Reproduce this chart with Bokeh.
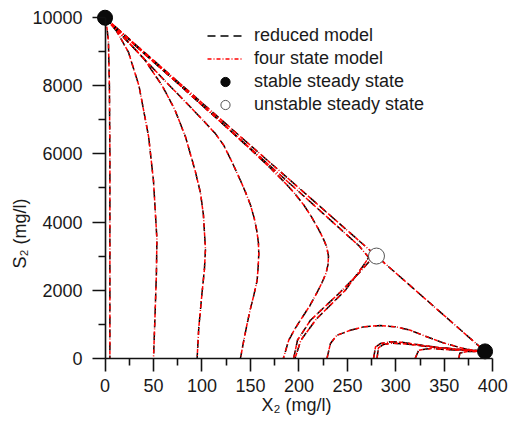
import math
from bokeh.plotting import figure
from bokeh.models import Range1d, Legend, LegendItem, FixedTicker, LinearAxis, Title
from bokeh.embed import file_html
from bokeh.resources import INLINE

# ---------------- data ----------------
x_major = [0, 50, 100, 150, 200, 250, 300, 350, 400]
x_minor = [25, 75, 125, 175, 225, 275, 325, 375]
y_major = [0, 2000, 4000, 6000, 8000, 10000]
y_minor = [1000, 3000, 5000, 7000, 9000]

# trajectories: X2 (mg/l) and S2 (mg/l)
trajA_x = [0, 2, 3.5, 4.5, 5, 5, 5]
trajA_s = [10000, 9700, 9300, 8000, 6000, 3000, 0]

trajB_x = [0, 12, 24, 35, 45, 50, 53.5, 53, 51.5, 50]
trajB_s = [10000, 9600, 9000, 8000, 6500, 5200, 3500, 2500, 1200, 0]

trajC_x = [0, 20, 40, 59, 72, 83, 93, 98.5, 101.5, 103.6, 102.5, 100, 96.7, 95]
trajC_s = [10000, 9400, 8800, 8000, 7300, 6500, 5500, 4850, 4200, 3200, 2600, 1900, 900, 0]

trajD_x = [0, 30, 60, 90, 102, 114, 122.5, 131, 139.7, 145, 150, 154, 156.5, 158.2, 158.6,
           158, 156.9, 153.5, 150, 146.6, 143, 139.7]
trajD_s = [10000, 9100, 8200, 7320, 6960, 6590, 6250, 5760, 5220, 4870, 4500, 4100, 3750, 3400, 3070,
           2700, 2287, 1850, 1457, 1017, 500, 0]

trajE_x = [0, 40, 80, 119, 157, 171, 184, 195, 205, 213, 220, 225, 228.5, 230.5, 230, 228, 224, 219,
           211, 201.5, 195, 189.5, 184]
trajE_s = [10000, 8950, 7950, 6950, 5950, 5570, 5200, 4860, 4500, 4150, 3800, 3520, 3280, 3000, 2750,
           2500, 2230, 1945, 1530, 1114, 820, 528, 0]

trajF_x = [194.6, 198.5, 211.9, 242.8, 262, 276]
trajF_s = [0, 528, 1114, 1945, 2500, 2950]

trajL_x = [0, 280, 392]
trajL_s = [10000, 3000, 200]

trajL2_x = [0, 100, 200, 262, 272, 266, 248, 218, 202, 196]
trajL2_s = [10000, 7430, 4890, 3300, 2960, 2700, 2000, 1150, 528, 0]

trajG_x = [229, 232.5, 239, 253, 267, 284, 300, 315, 330, 349, 373, 392]
trajG_s = [0, 430, 670, 820, 920, 960, 920, 820, 650, 450, 260, 200]

trajH1_x = [277, 279, 284, 294, 305, 315, 340, 365, 392]
trajH1_s = [0, 330, 430, 480, 470, 430, 330, 250, 200]

trajH2_x = [280.6, 282, 287, 296, 310, 340, 392]
trajH2_s = [0, 300, 400, 440, 420, 320, 200]

trajI_x = [320, 323.5, 335.6, 360, 392]
trajI_s = [0, 235, 284, 240, 200]

trajJ_x = [365, 366, 375, 392]
trajJ_s = [0, 150, 200, 200]

trajectories = [
    (trajA_x, trajA_s), (trajB_x, trajB_s), (trajC_x, trajC_s), (trajD_x, trajD_s),
    (trajE_x, trajE_s), (trajF_x, trajF_s), (trajL_x, trajL_s), (trajL2_x, trajL2_s),
    (trajG_x, trajG_s), (trajH1_x, trajH1_s), (trajH2_x, trajH2_s),
    (trajI_x, trajI_s), (trajJ_x, trajJ_s),
]

stable_x = [0, 392]
stable_s = [10000, 200]
unstable_x = [280]
unstable_s = [3000]

x_title = "X\u2082 (mg/l)"
y_title = "S\u2082 (mg/l)"

FONT = "Liberation Sans"
TXT = "#1a1a1a"
AX = "#111111"

p = figure(width=515, height=427,
           x_range=Range1d(-15, 410), y_range=Range1d(-420, 10300),
           min_border_left=90, min_border_right=13, min_border_top=7, min_border_bottom=55,
           output_backend="svg", toolbar_location=None)
p.background_fill_color = "white"
p.border_fill_color = "white"
p.outline_line_color = None
p.grid.visible = False

# default axes: tick labels (and x title) at the frame edge
for ax, maj, mnr, so in ((p.xaxis[0], x_major, x_minor, 6), (p.yaxis[0], y_major, y_minor, 8)):
    ax.ticker = FixedTicker(ticks=maj, minor_ticks=mnr)
    ax.axis_line_color = None
    ax.major_tick_line_color = None
    ax.minor_tick_line_color = None
    ax.major_tick_out = 0
    ax.major_tick_in = 0
    ax.minor_tick_out = 0
    ax.minor_tick_in = 0
    ax.major_label_text_font = FONT
    ax.major_label_text_font_size = "18px"
    ax.major_label_text_color = TXT
    ax.major_label_standoff = so
p.xaxis[0].bounds = (0, 400)
p.xaxis[0].axis_label = x_title
p.xaxis[0].axis_label_standoff = 0
p.xaxis[0].axis_label_text_font = FONT
p.xaxis[0].axis_label_text_font_size = "18px"
p.xaxis[0].axis_label_text_font_style = "normal"
p.xaxis[0].axis_label_text_color = TXT

# y title, placed a little below the middle as in the reference
ty = Title(text=y_title, align="left", offset=104, standoff=0,
           text_font=FONT, text_font_size="18px", text_font_style="normal",
           text_color=TXT)
p.add_layout(ty, "left")

# axis lines and ticks drawn at X2 = 0 and S2 = 0 (ticks point outward of the data)
fx = LinearAxis(fixed_location=0, bounds=(0, 400))
fy = LinearAxis(fixed_location=0, bounds=(0, 10000))
for ax, maj, mnr in ((fx, x_major, x_minor), (fy, y_major, y_minor)):
    ax.ticker = FixedTicker(ticks=maj, minor_ticks=mnr)
    ax.major_tick_out = 0
    ax.major_tick_in = 13
    ax.minor_tick_out = 0
    ax.minor_tick_in = 7
    ax.axis_line_width = 1.6
    ax.major_tick_line_width = 1.6
    ax.minor_tick_line_width = 1.6
    ax.axis_line_color = AX
    ax.major_tick_line_color = AX
    ax.minor_tick_line_color = AX
    ax.major_label_text_color = None
    ax.major_label_text_font_size = "1px"
    ax.major_label_standoff = 0
p.add_layout(fx, "above")
p.add_layout(fy, "right")

black_r = None
red_r = None
for tx, ts in trajectories:
    rb = p.line(tx, ts, line_color="black", line_width=1.5, line_dash="8 5")
    if black_r is None:
        black_r = rb
for tx, ts in trajectories:
    rr = p.line(tx, ts, line_color="red", line_width=1.5, line_dash="4 2 1 2")
    if red_r is None:
        red_r = rr

st = p.scatter(stable_x, stable_s, size=15, fill_color="#0a0a0a", line_color="#000000")
un = p.scatter(unstable_x, unstable_s, size=16, fill_color="white", line_color="#555555", line_width=1)

legend = Legend(items=[
    LegendItem(label="reduced model", renderers=[black_r]),
    LegendItem(label="four state model", renderers=[red_r]),
    LegendItem(label="stable steady state", renderers=[st]),
    LegendItem(label="unstable steady state", renderers=[un]),
], location=(117, 256))
legend.background_fill_alpha = 0
legend.border_line_color = None
legend.padding = 0
legend.margin = 0
legend.spacing = 0
legend.glyph_width = 36
legend.glyph_height = 23
legend.label_height = 23
legend.label_standoff = 11
legend.label_text_font = FONT
legend.label_text_font_size = "18px"
legend.label_text_color = TXT
p.add_layout(legend)

open("out.html", "w").write(file_html(p, INLINE))
